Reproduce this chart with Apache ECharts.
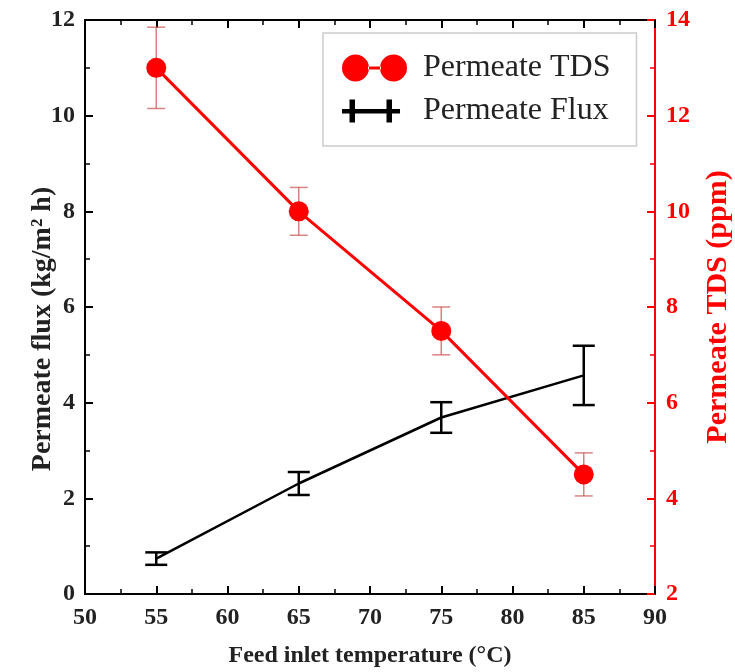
<!DOCTYPE html>
<html><head><meta charset="utf-8">
<script src="https://cdn.jsdelivr.net/npm/echarts@6/dist/echarts.min.js"></script>
<style>html,body{margin:0;padding:0;background:#fff}#c{width:735px;height:672px}</style>
</head><body><div id="c"></div>
<script>
const temps = [55, 65, 75, 85];
const fluxVals = [0.74, 2.31, 3.69, 4.57];
const fluxErr = [0.13, 0.24, 0.32, 0.62];
const tdsVals = [13.0, 10.0, 7.5, 4.5];
const tdsErr = [0.85, 0.5, 0.5, 0.45];
const xTicks = [50, 55, 60, 65, 70, 75, 80, 85, 90];

const FONT = 'Liberation Serif';
const RED = '#ff0000';

function errRender(cap, color, width) {
  return function (params, api) {
    const x = api.value(0), y = api.value(1), e = api.value(2);
    const hi = api.coord([x, y + e]), lo = api.coord([x, y - e]);
    const st = { stroke: color, lineWidth: width };
    return { type: 'group', children: [
      { type: 'line', shape: { x1: hi[0], y1: hi[1], x2: lo[0], y2: lo[1] }, style: st },
      { type: 'line', shape: { x1: hi[0] - cap, y1: hi[1], x2: hi[0] + cap, y2: hi[1] }, style: st },
      { type: 'line', shape: { x1: lo[0] - cap, y1: lo[1], x2: lo[0] + cap, y2: lo[1] }, style: st }
    ]};
  };
}

const chart = echarts.init(document.getElementById('c'));
const axisLabel = { fontFamily: FONT, fontWeight: 'bold', fontSize: 24, color: '#222' };
const nameStyle = { fontFamily: FONT, fontWeight: 'bold', fontSize: 24, color: '#222' };

chart.setOption({
  animation: false,
  grid: { left: 85, right: 80, top: 20, bottom: 78, containLabel: false, outerBoundsMode: 'none' },
  legend: {
    orient: 'vertical', left: 323, top: 33,
    padding: [19, 26, 19, 19], itemGap: 11,
    itemWidth: 65, itemHeight: 27,
    borderColor: '#cccccc', borderWidth: 1.5,
    textStyle: { fontFamily: FONT, fontSize: 32, color: '#222', padding: [0, 0, 0, 11] },
    data: [
      { name: 'Permeate TDS', itemStyle: { color: RED },
        icon: 'path://M0,13.5 a13.5,13.5 0 1,0 27,0 a13.5,13.5 0 1,0 -27,0 M26,12 h13 v3 h-13 z M38,13.5 a13.5,13.5 0 1,0 27,0 a13.5,13.5 0 1,0 -27,0' },
      { name: 'Permeate Flux', itemStyle: { color: '#000' },
        icon: 'path://M0,11.5 h58 v4.5 h-58 z M7.5,2 h5.5 v23 h-5.5 z M44.5,2 h5.5 v23 h-5.5 z M0,0 h0.01 v27 h-0.01 z M64.99,0 h0.01 v27 h-0.01 z' }
    ]
  },
  xAxis: [
    { type: 'value', min: 50, max: 90, interval: 5, position: 'bottom',
      axisLine: { lineStyle: { color: '#000', width: 2 } },
      axisTick: { inside: true, length: 8, lineStyle: { width: 2 } },
      minorTick: { show: true, splitNumber: 2, length: 5, lineStyle: { color: '#000', width: 1.5 } },
      splitLine: { show: false },
      axisLabel: Object.assign({ margin: 12, formatter: v => xTicks.includes(v) ? String(v) : '' }, axisLabel),
      name: 'Feed inlet temperature (°C)', nameLocation: 'middle', nameGap: 50, nameTextStyle: nameStyle },
    { type: 'value', min: 50, max: 90, interval: 5, position: 'top',
      axisLine: { lineStyle: { color: '#000', width: 2 } },
      axisTick: { inside: true, length: 8, lineStyle: { width: 2 } },
      minorTick: { show: true, splitNumber: 2, length: 5, lineStyle: { color: '#000', width: 1.5 } },
      splitLine: { show: false }, axisLabel: { show: false } }
  ],
  yAxis: [
    { type: 'value', min: 0, max: 12, interval: 2, position: 'left',
      axisLine: { show: true, lineStyle: { color: '#000', width: 2 } },
      axisTick: { show: true, inside: true, length: 8, lineStyle: { width: 2 } },
      minorTick: { show: true, splitNumber: 2, length: 5, lineStyle: { color: '#000', width: 1.5 } },
      splitLine: { show: false },
      axisLabel: Object.assign({ margin: 10 }, axisLabel),
      name: 'Permeate flux (kg/m² h)', nameLocation: 'middle', nameGap: 28, nameMoveOverlap: false,
      nameTextStyle: Object.assign({}, nameStyle, { fontSize: 28, padding: [0, 44, 0, 0] }) },
    { type: 'value', min: 2, max: 14, interval: 2, position: 'right',
      axisLine: { show: true, lineStyle: { color: RED, width: 2 } },
      axisTick: { show: true, inside: true, length: 8, lineStyle: { width: 2, color: RED } },
      minorTick: { show: true, splitNumber: 2, length: 5, lineStyle: { color: RED, width: 1.5 } },
      splitLine: { show: false },
      axisLabel: Object.assign({}, axisLabel, { color: RED, margin: 11 }),
      name: 'Permeate TDS (ppm)', nameLocation: 'middle', nameGap: 48, nameRotate: 90,
      nameTextStyle: Object.assign({}, nameStyle, { color: RED, fontSize: 30 }) }
  ],
  series: [
    { name: 'Permeate Flux', type: 'line', xAxisIndex: 0, yAxisIndex: 0,
      data: temps.map((t, i) => [t, fluxVals[i]]), symbol: 'none',
      lineStyle: { color: '#000', width: 2.5 }, itemStyle: { color: '#000' }, z: 3 },
    { name: 'fluxErr', type: 'custom', xAxisIndex: 0, yAxisIndex: 0,
      renderItem: errRender(11, '#000', 2.5),
      data: temps.map((t, i) => [t, fluxVals[i], fluxErr[i]]), z: 4 },
    { name: 'tdsErr', type: 'custom', xAxisIndex: 0, yAxisIndex: 1,
      renderItem: errRender(9, 'rgba(205,90,90,0.75)', 1.5),
      data: temps.map((t, i) => [t, tdsVals[i], tdsErr[i]]), z: 2 },
    { name: 'Permeate TDS', type: 'line', xAxisIndex: 0, yAxisIndex: 1,
      data: temps.map((t, i) => [t, tdsVals[i]]), symbol: 'circle', symbolSize: 20,
      lineStyle: { color: RED, width: 3 }, itemStyle: { color: RED }, z: 5 }
  ]
});
</script></body></html>
